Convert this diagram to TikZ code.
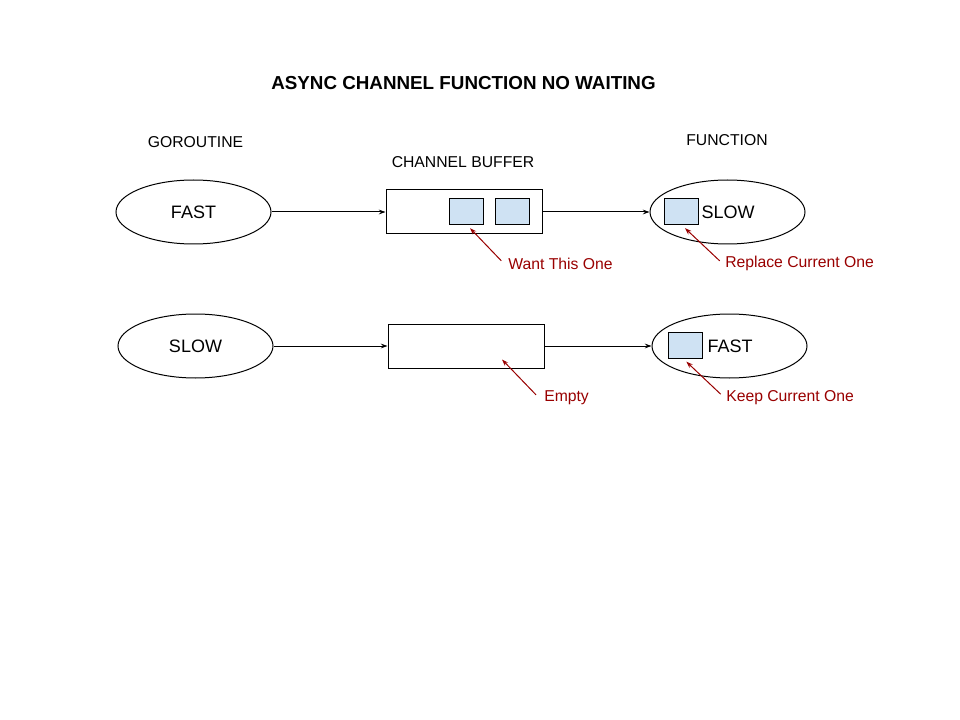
\documentclass[tikz,border=0pt]{standalone}
\usepackage{fontspec}
\setmainfont{Liberation Sans}
\usetikzlibrary{arrows.meta,shapes.geometric}
\definecolor{annot}{HTML}{990000}
\definecolor{sqfill}{HTML}{CFE2F3}
\begin{document}
\begin{tikzpicture}[x=0.75pt,y=-0.75pt,
  oval/.style={ellipse,draw,line width=0.75pt,inner sep=0pt,minimum width=116.25pt,minimum height=48pt,font=\fontsize{13.5pt}{16pt}\selectfont},
  buf/.style={rectangle,draw,line width=0.75pt,inner sep=0pt,minimum width=117pt,minimum height=33pt},
  sq/.style={rectangle,draw,line width=0.75pt,fill=sqfill,inner sep=0pt,minimum width=25.5pt,minimum height=19.5pt},
  lbl/.style={font=\fontsize{11.8pt}{14pt}\selectfont,inner sep=0pt},
  note/.style={font=\fontsize{11.8pt}{14pt}\selectfont,text=annot,inner sep=0pt,anchor=west},
  flow/.style={draw,line width=0.75pt,-{Stealth[length=5pt,width=3.5pt]}},
  pointer/.style={draw=annot,line width=0.75pt,-{Stealth[length=5pt,width=3.5pt]}},
  plain/.style={inner sep=0pt,font=\fontsize{13.5pt}{16pt}\selectfont}]
\path[fill=white] (0,0) rectangle (960,720);
\useasboundingbox (0,0) rectangle (960,720);

\node[font=\bfseries\fontsize{14.1pt}{16pt}\selectfont,inner sep=0pt] (title) at (463.5,83) {ASYNC CHANNEL FUNCTION NO WAITING};
\node[lbl] (gor) at (195.5,142) {GOROUTINE};
\node[lbl] (chb) at (463,162) {CHANNEL BUFFER};
\node[lbl] (fun) at (727,140) {FUNCTION};

% row 1
\node[oval] (g1) at (193.5,212) {FAST};
\node[buf] (b1) at (464,212) {};
\node[sq] (s1) at (466,212) {};
\node[sq] (s2) at (512,212) {};
\node[oval] (f1) at (727.5,212) {};
\node[sq] (s3) at (681,212) {};
\node[plain] (f1t) at (728,212) {SLOW};
\draw[flow] (g1.east) -- (b1.west);
\draw[flow] (b1.east) -- (f1.west);
\node[note] (n1) at (508,263.5) {Want This One};
\node[note] (n2) at (725,263.5) {Replace Current One};
\draw[pointer] ([xshift=-5pt,yshift=2pt]n1.west) -- ([xshift=3pt,yshift=-2pt]s1.south);
\draw[pointer] ([xshift=-4pt,yshift=2pt]n2.west) -- ([xshift=3pt,yshift=-2pt]s3.south);

% row 2
\node[oval] (g2) at (195.5,346) {SLOW};
\node[buf] (b2) at (466,346) {};
\node[oval] (f2) at (729.5,346) {};
\node[sq] (s4) at (685,345.5) {};
\node[plain] (f2t) at (730,346) {FAST};
\draw[flow] (g2.east) -- (b2.west);
\draw[flow] (b2.east) -- (f2.west);
\node[note] (n3) at (544,397.5) {Empty};
\node[note] (n4) at (726,397.5) {Keep Current One};
\draw[pointer] ([xshift=-6pt,yshift=2pt]n3.west) -- ([xshift=27pt,yshift=6.75pt]b2.south);
\draw[pointer] ([xshift=-4pt,yshift=2.5pt]n4.west) -- ([xshift=1pt,yshift=-2pt]s4.south);
\end{tikzpicture}
\end{document}
